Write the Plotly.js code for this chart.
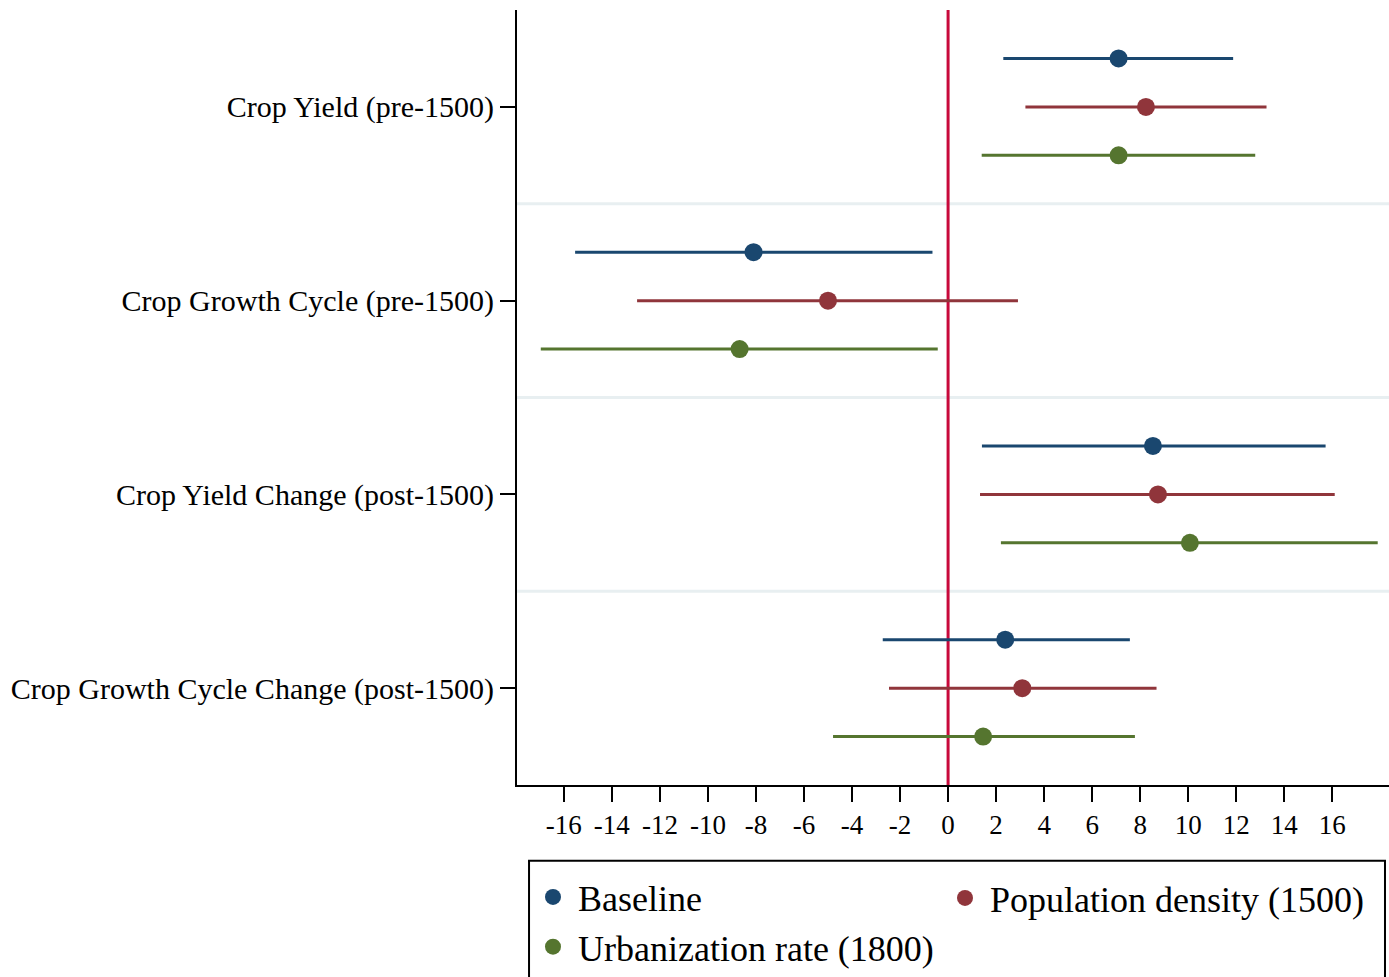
<!DOCTYPE html>
<html>
<head>
<meta charset="utf-8">
<script src="https://cdn.plot.ly/plotly-3.0.1.min.js"></script>
<style>
  html, body { margin: 0; padding: 0; background: #ffffff; }
  #chart { width: 1389px; height: 977px; }
</style>
</head>
<body>
<div id="chart"></div>
<script>
// Outcome variables, top to bottom
const outcomes = [
  "Crop Yield (pre-1500)",
  "Crop Growth Cycle (pre-1500)",
  "Crop Yield Change (post-1500)",
  "Crop Growth Cycle Change (post-1500)"
];

// Point estimates and 95% confidence bounds for each specification
const baselineEst = [7.10, -8.10, 8.53, 2.38];
const baselineLo  = [2.30, -15.53, 1.41, -2.72];
const baselineHi  = [11.87, -0.65, 15.72, 7.57];

const popDensityEst = [8.24, -5.00, 8.74, 3.09];
const popDensityLo  = [3.22, -12.95, 1.33, -2.46];
const popDensityHi  = [13.26, 2.91, 16.10, 8.68];

const urbanEst = [7.10, -8.68, 10.07, 1.46];
const urbanLo  = [1.40, -16.96, 2.20, -4.79];
const urbanHi  = [12.79, -0.43, 17.89, 7.78];

const seriesNames = ["Baseline", "Population density (1500)", "Urbanization rate (1800)"];
const xTicks = [-16, -14, -12, -10, -8, -6, -4, -2, 0, 2, 4, 6, 8, 10, 12, 14, 16];

const colors = ["#1a476f", "#90353b", "#55752f"];
const offsets = [-0.25, 0, 0.25];
const serifFont = "Liberation Serif, Times New Roman, serif";

function makeTrace(name, est, lo, hi, color, offset, legendId) {
  return {
    type: "scatter",
    mode: "markers",
    name: name,
    legend: legendId,
    x: est,
    y: outcomes.map((_, i) => i + offset),
    marker: { color: color, size: 18, line: { width: 0 } },
    error_x: {
      type: "data",
      symmetric: false,
      array: est.map((v, i) => hi[i] - v),
      arrayminus: est.map((v, i) => v - lo[i]),
      color: color,
      thickness: 3,
      width: 0
    },
    hoverinfo: "x+name"
  };
}

// Left legend column holds Baseline and Urbanization; right column holds Population density
const traces = [
  makeTrace(seriesNames[0], baselineEst, baselineLo, baselineHi, colors[0], offsets[0], "legend"),
  makeTrace(seriesNames[1], popDensityEst, popDensityLo, popDensityHi, colors[1], offsets[1], "legend2"),
  makeTrace(seriesNames[2], urbanEst, urbanLo, urbanHi, colors[2], offsets[2], "legend")
];

// Light separators between outcome blocks, and the zero reference line
const shapes = [0.5, 1.5, 2.5].map(y => ({
  type: "line", xref: "paper", yref: "y",
  x0: 0, x1: 1, y0: y, y1: y,
  line: { color: "#e8eff1", width: 3 },
  layer: "below"
}));
shapes.push({
  type: "line", xref: "x", yref: "paper",
  x0: 0, x1: 0, y0: 0, y1: 1,
  line: { color: "#c8093b", width: 3 },
  layer: "below"
});
// Frame around the two legend columns
shapes.push({
  type: "rect", xref: "paper", yref: "paper",
  x0: 0.0138, x1: 0.9954, y0: -0.0979, y1: -0.3,
  line: { color: "#000000", width: 2 },
  fillcolor: "rgba(0,0,0,0)",
  layer: "above"
});

const legendCommon = {
  orientation: "v",
  xanchor: "left",
  yanchor: "top",
  bgcolor: "rgba(0,0,0,0)",
  borderwidth: 0,
  font: { family: serifFont, size: 36, color: "#000000" },
  itemwidth: 40,
  tracegroupgap: 0
};

const layout = {
  width: 1389,
  height: 977,
  margin: { l: 517, r: 0, t: 10, b: 191 },
  paper_bgcolor: "#ffffff",
  plot_bgcolor: "#ffffff",
  font: { family: serifFont, color: "#000000", size: 26 },
  showlegend: true,
  xaxis: {
    range: [-17.95, 18.36],
    tickmode: "array",
    tickvals: xTicks,
    ticktext: xTicks.map(String),
    ticks: "outside",
    ticklen: 15,
    tickwidth: 2,
    tickcolor: "#000000",
    showline: true,
    linecolor: "#000000",
    linewidth: 2,
    showgrid: false,
    zeroline: false,
    tickfont: { family: serifFont, size: 27, color: "#000000" },
    fixedrange: true
  },
  yaxis: {
    range: [3.5, -0.5],
    tickmode: "array",
    tickvals: outcomes.map((_, i) => i),
    ticktext: outcomes,
    ticks: "outside",
    ticklen: 15,
    tickwidth: 2,
    tickcolor: "#000000",
    showline: true,
    linecolor: "#000000",
    linewidth: 2,
    showgrid: false,
    zeroline: false,
    tickfont: { family: serifFont, size: 30, color: "#000000" },
    fixedrange: true
  },
  shapes: shapes,
  legend: Object.assign({}, legendCommon, { x: 0.0126, y: -0.1057 }),
  legend2: Object.assign({}, legendCommon, { x: 0.4851, y: -0.1057 })
};

Plotly.newPlot("chart", traces, layout, { displayModeBar: false, staticPlot: true });
</script>
</body>
</html>
